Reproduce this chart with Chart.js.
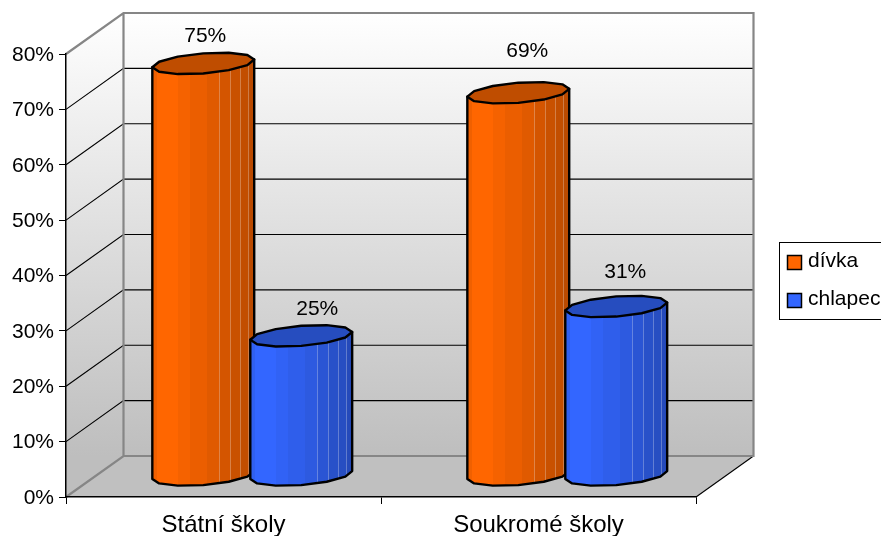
<!DOCTYPE html>
<html><head><meta charset="utf-8">
<style>html,body{margin:0;padding:0;background:#fff}canvas{display:block}</style>
<script src="https://cdn.jsdelivr.net/npm/chart.js@4"></script>
</head><body><canvas id="c" width="881" height="536"></canvas>
<script>
const categories = ['Státní školy', 'Soukromé školy'];
const divka = [74.6, 69.3];
const chlapec = [25.4, 30.7];
const seriesNames = ['dívka', 'chlapec'];
const seriesColors = ['#FF6600', '#3366FF'];
const tickStep = 10;
const tickMax = 80;
// hand-placed data label nudges, as in the reference [series][category]
const labelDx = [[2, 9], [16, 9]];
const labelDy = [[-48, -62], [-47, -55]];

const FONT = '"Liberation Sans", Arial, sans-serif';
const DEPTH = {x: 57.5, y: -41};
const facetStops = [0, .05, .255, .37, .54, .65, .765, .86, .94, 1];
const facetShade = [.94, 1, .96, .92, .88, .83, .79, .76, .73];
const glintStops = [.65, .765, .86, .94];

function shade(hex, f) {
  const n = parseInt(hex.slice(1), 16);
  const c = [n >> 16 & 255, n >> 8 & 255, n & 255].map(v => Math.round(v * f));
  return `rgb(${c[0]},${c[1]},${c[2]})`;
}

// Each bar element is painted as a 3D cylinder from its own scale-derived geometry.
Chart.BarElement.prototype.draw = function (ctx) {
  const col = this.options.backgroundColor;
  const cx = this.x + DEPTH.x / 2, top = this.y + DEPTH.y / 2, bot = this.base + DEPTH.y / 2 - 1;
  const hw = this.width * 0.52;
  const dy = hw * 0.212, dx = hw * 0.36, a = Math.sqrt(hw * hw - dx * dx);
  const t0 = Math.atan2(dx, a);
  const P = (cy, t) => [cx + a * Math.cos(t) + dx * Math.sin(t), cy - dy * Math.sin(t)];
  const N = 12, step = Math.PI * 2 / N;
  ctx.save();
  ctx.lineJoin = 'round';
  const body = new Path2D();
  let p = P(top, t0); body.moveTo(p[0], p[1]);
  for (let i = 0; i <= N / 2; i++) { p = P(bot, t0 - i * step); body.lineTo(p[0], p[1]); }
  p = P(top, t0 - Math.PI); body.lineTo(p[0], p[1]);
  body.closePath();
  const x0 = cx - hw, g = ctx.createLinearGradient(x0, 0, cx + hw, 0);
  facetShade.forEach((f, i) => {
    const s = shade(col, f);
    g.addColorStop(facetStops[i], s); g.addColorStop(facetStops[i + 1], s);
  });
  ctx.fillStyle = g; ctx.fill(body);
  ctx.save(); ctx.clip(body);
  ctx.strokeStyle = 'rgba(255,255,255,.28)'; ctx.lineWidth = 1;
  glintStops.forEach(f => {
    const x = Math.round(x0 + f * hw * 2) + .5;
    ctx.beginPath(); ctx.moveTo(x, top - 20); ctx.lineTo(x, bot + 20); ctx.stroke();
  });
  ctx.restore();
  ctx.strokeStyle = '#000'; ctx.lineWidth = 2.4; ctx.stroke(body);
  const cap = new Path2D();
  for (let i = 0; i < N; i++) { p = P(top, t0 + i * step); i ? cap.lineTo(p[0], p[1]) : cap.moveTo(p[0], p[1]); }
  cap.closePath();
  ctx.fillStyle = shade(col, .75); ctx.fill(cap); ctx.stroke(cap);
  ctx.restore();
};

const walls = {
  id: 'walls',
  beforeDraw(chart) {
    const {ctx, chartArea: ca, scales: {y}} = chart;
    const L = ca.left, R = ca.right, T = y.getPixelForValue(tickMax), B = y.getPixelForValue(0);
    const dx = DEPTH.x, dy = DEPTH.y;
    ctx.save();
    const g = ctx.createLinearGradient(0, T + dy, 0, B + dy);
    g.addColorStop(0, '#FFFFFF'); g.addColorStop(1, '#BEBEBE');
    ctx.fillStyle = g;
    ctx.fillRect(L + dx, T + dy, R - L, B - T);
    ctx.beginPath();
    ctx.moveTo(L, T); ctx.lineTo(L + dx, T + dy); ctx.lineTo(L + dx, B + dy); ctx.lineTo(L, B); ctx.closePath();
    ctx.fill();
    ctx.fillStyle = '#C0C0C0';
    ctx.beginPath();
    ctx.moveTo(L, B); ctx.lineTo(L + dx, B + dy); ctx.lineTo(R + dx, B + dy); ctx.lineTo(R, B); ctx.closePath();
    ctx.fill();
    ctx.strokeStyle = '#000'; ctx.lineWidth = 1.1;
    y.ticks.forEach(t => {
      if (t.value <= 0 || t.value >= tickMax) return;
      const py = y.getPixelForValue(t.value);
      ctx.beginPath(); ctx.moveTo(L, py); ctx.lineTo(L + dx, py + dy); ctx.lineTo(R + dx, py + dy); ctx.stroke();
    });
    ctx.beginPath(); ctx.moveTo(R, B); ctx.lineTo(R + dx, B + dy); ctx.stroke();
    ctx.strokeStyle = '#868686'; ctx.lineWidth = 2.2;
    ctx.beginPath();
    ctx.moveTo(L, T); ctx.lineTo(L + dx, T + dy); ctx.lineTo(R + dx, T + dy); ctx.lineTo(R + dx, B + dy); ctx.lineTo(L + dx, B + dy); ctx.lineTo(L, B);
    ctx.moveTo(L + dx, T + dy); ctx.lineTo(L + dx, B + dy);
    ctx.stroke();
    ctx.restore();
  }
};

// Paint the series first-to-last so the blue cylinders overlap the orange ones.
const paintOrder = {
  id: 'paintOrder',
  beforeDatasetsDraw(chart) {
    chart.data.datasets.forEach((ds, i) => chart.getDatasetMeta(i).controller.draw());
    return false;
  }
};

const barLabels = {
  id: 'barLabels',
  afterDraw(chart) {
    const {ctx} = chart;
    ctx.save();
    ctx.fillStyle = '#000'; ctx.font = '21px ' + FONT; ctx.textAlign = 'center'; ctx.textBaseline = 'middle';
    chart.data.datasets.forEach((ds, si) => {
      chart.getDatasetMeta(si).data.forEach((el, i) => {
        ctx.fillText(Math.round(ds.data[i]) + '%', el.x + DEPTH.x / 2 + labelDx[si][i], el.y + labelDy[si][i]);
      });
    });
    ctx.restore();
  }
};

const sideLegend = {
  id: 'sideLegend',
  afterDraw(chart) {
    const {ctx} = chart;
    ctx.save();
    ctx.strokeStyle = '#000'; ctx.lineWidth = 1;
    ctx.strokeRect(779.5, 242.5, 120, 77);
    ctx.font = '21px ' + FONT; ctx.textBaseline = 'middle'; ctx.textAlign = 'left';
    chart.data.datasets.forEach((ds, i) => {
      const y = 255 + i * 38;
      ctx.fillStyle = ds.backgroundColor;
      ctx.fillRect(787.5, y + .5, 14, 14);
      ctx.lineWidth = 1.5; ctx.strokeRect(787.5, y + .5, 14, 14);
      ctx.fillStyle = '#000';
      ctx.fillText(ds.label, 808, y + 6.5);
    });
    ctx.restore();
  }
};

new Chart(document.getElementById('c'), {
  type: 'bar',
  data: {
    labels: categories,
    datasets: [
      {label: seriesNames[0], data: divka, backgroundColor: seriesColors[0], clip: false},
      {label: seriesNames[1], data: chlapec, backgroundColor: seriesColors[1], clip: false}
    ]
  },
  plugins: [walls, paintOrder, barLabels, sideLegend],
  options: {
    responsive: false,
    animation: false,
    categoryPercentage: 0.622,
    barPercentage: 1,
    layout: {padding: {top: 54, right: 185, left: 0, bottom: 0}},
    plugins: {legend: {display: false}, tooltip: {enabled: false}},
    scales: {
      x: {
        grid: {offset: true, drawOnChartArea: false, drawTicks: true, tickLength: 7, color: '#000'},
        border: {color: '#000', width: 1.5},
        ticks: {color: '#000', font: {family: FONT, size: 24}, padding: 7, maxRotation: 0},
        afterFit(s) { s.height = 39; }
      },
      y: {
        min: 0, max: tickMax,
        grid: {drawOnChartArea: false, drawTicks: true, tickLength: 7, color: '#000'},
        border: {color: '#000', width: 1.5},
        ticks: {stepSize: tickStep, color: '#000', font: {family: FONT, size: 21}, padding: 5, labelOffset: 1, callback: v => v + '%'},
        afterFit(s) { s.width = 66; }
      }
    }
  }
});
</script></body></html>
